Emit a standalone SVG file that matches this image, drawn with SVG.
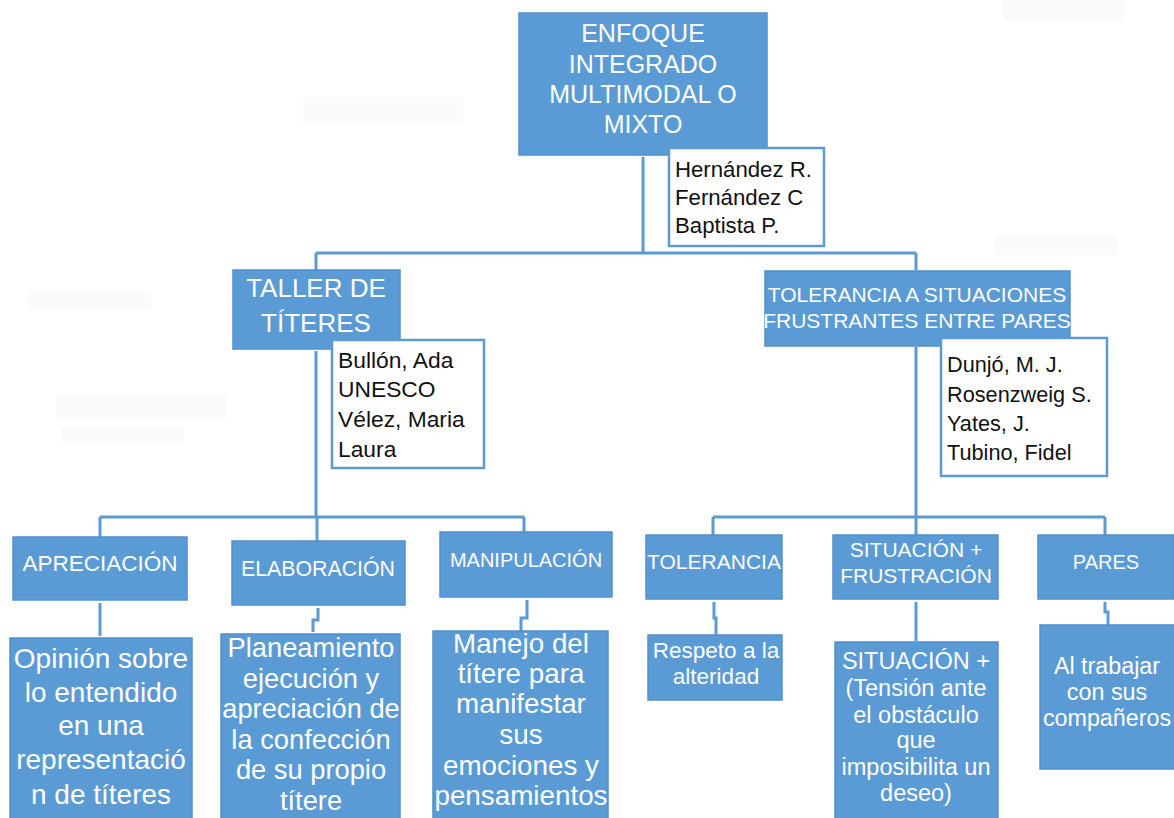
<svg xmlns="http://www.w3.org/2000/svg" width="1174" height="818" viewBox="0 0 1174 818">
<style>
.b{fill:#5b9bd5;stroke:#5290cc;stroke-width:1.5}
.r{fill:#ffffff;stroke:#5b9bd5;stroke-width:2.5}
.w{fill:#ffffff;font-family:"Liberation Sans",Arial,sans-serif;text-anchor:middle}
.k{fill:#111111;font-family:"Liberation Sans",Arial,sans-serif}
.c{fill:none;stroke:#5b9bd5;stroke-width:3}
.g{fill:#fafafa}
</style>
<rect width="1174" height="818" fill="#ffffff"/>
<g id="artifacts">
<rect class="g" x="303" y="97" width="160" height="25"/>
<rect class="g" x="1003" y="0" width="121" height="20"/>
<rect class="g" x="995" y="235" width="122" height="20"/>
<rect class="g" x="28" y="292" width="123" height="18"/>
<rect class="g" x="56" y="394" width="170" height="24"/>
<rect class="g" x="62" y="427" width="122" height="15"/>
</g>
<g id="connectors">
<path class="c" d="M643 157V253M316 253H916M316 253V270M916 253V270"/>
<path class="c" d="M316 351V517M100 517H524M100 517V537M317 517V541M524 517V532"/>
<path class="c" d="M916 347V517M713 517H1105M713 517V535M916 517V535M1105 517V535"/>
<path class="c" d="M100 603V636"/>
<path class="c" d="M318 608V620H313V632"/>
<path class="c" d="M527 600V618H521V631"/>
<path class="c" d="M714 602V618H716V635"/>
<path class="c" d="M916 602V641"/>
<path class="c" d="M1105 602V612H1108V625"/>
</g>
<g id="n-root">
<rect class="b" x="519" y="13" width="248" height="142"/>
<text class="w" font-size="25" x="643"><tspan x="643" y="42">ENFOQUE</tspan><tspan x="643" y="73">INTEGRADO</tspan><tspan x="643" y="103">MULTIMODAL O</tspan><tspan x="643" y="133">MIXTO</tspan></text>
</g>
<g id="n-root-ref">
<rect class="r" x="669" y="148" width="155" height="98"/>
<text class="k" font-size="22.2"><tspan x="675" y="177">Hernández R.</tspan><tspan x="675" y="205">Fernández C</tspan><tspan x="675" y="233">Baptista P.</tspan></text>
</g>
<g id="n-taller">
<rect class="b" x="233" y="270" width="167" height="79"/>
<text class="w" font-size="26"><tspan x="316" y="297">TALLER DE</tspan><tspan x="316" y="332">TÍTERES</tspan></text>
</g>
<g id="n-taller-ref">
<rect class="r" x="332" y="340" width="152" height="128"/>
<text class="k" font-size="22.8"><tspan x="338" y="368">Bullón, Ada</tspan><tspan x="338" y="397">UNESCO</tspan><tspan x="338" y="427">Vélez, Maria</tspan><tspan x="338" y="457">Laura</tspan></text>
</g>
<g id="n-tolerancia-sit">
<rect class="b" x="765" y="271" width="305" height="75"/>
<text class="w" font-size="21"><tspan x="917" y="302">TOLERANCIA A SITUACIONES</tspan><tspan x="917" y="328">FRUSTRANTES ENTRE PARES</tspan></text>
</g>
<g id="n-tolerancia-ref">
<rect class="r" x="941" y="338" width="166" height="138"/>
<text class="k" font-size="21.7"><tspan x="947" y="372">Dunjó, M. J.</tspan><tspan x="947" y="402">Rosenzweig S.</tspan><tspan x="947" y="431">Yates, J.</tspan><tspan x="947" y="460">Tubino, Fidel</tspan></text>
</g>
<g id="n-apreciacion">
<rect class="b" x="13" y="537" width="174" height="63"/>
<text class="w" font-size="22.5" x="100" y="571">APRECIACIÓN</text>
</g>
<g id="n-elaboracion">
<rect class="b" x="232" y="541" width="173" height="64"/>
<text class="w" font-size="21.3" x="318" y="576">ELABORACIÓN</text>
</g>
<g id="n-manipulacion">
<rect class="b" x="440" y="532" width="172" height="65"/>
<text class="w" font-size="20" x="526" y="567">MANIPULACIÓN</text>
</g>
<g id="n-opinion">
<rect class="b" x="10" y="638" width="182" height="182"/>
<text class="w" font-size="28"><tspan x="101" y="668">Opinión sobre</tspan><tspan x="101" y="702">lo entendido</tspan><tspan x="101" y="735">en una</tspan><tspan x="101" y="769">representació</tspan><tspan x="101" y="804">n de títeres</tspan></text>
</g>
<g id="n-planeamiento">
<rect class="b" x="221" y="634" width="179" height="186"/>
<text class="w" font-size="27.3"><tspan x="311" y="657">Planeamiento</tspan><tspan x="311" y="688">ejecución y</tspan><tspan x="311" y="718">apreciación de</tspan><tspan x="311" y="749">la confección</tspan><tspan x="311" y="779">de su propio</tspan><tspan x="311" y="810">títere</tspan></text>
</g>
<g id="n-manejo">
<rect class="b" x="433" y="631" width="175" height="189"/>
<text class="w" font-size="27.8"><tspan x="521" y="653">Manejo del</tspan><tspan x="521" y="683">títere para</tspan><tspan x="521" y="713">manifestar</tspan><tspan x="521" y="744">sus</tspan><tspan x="521" y="775">emociones y</tspan><tspan x="521" y="805">pensamientos</tspan></text>
</g>
<g id="n-tolerancia">
<rect class="b" x="646" y="535" width="136" height="64"/>
<text class="w" font-size="21" x="714" y="569">TOLERANCIA</text>
</g>
<g id="n-situacion">
<rect class="b" x="833" y="535" width="165" height="64"/>
<text class="w" font-size="21"><tspan x="916" y="557">SITUACIÓN +</tspan><tspan x="916" y="583">FRUSTRACIÓN</tspan></text>
</g>
<g id="n-pares">
<rect class="b" x="1038" y="535" width="136" height="64"/>
<text class="w" font-size="20" x="1106" y="569">PARES</text>
</g>
<g id="n-respeto">
<rect class="b" x="648" y="635" width="134" height="65"/>
<text class="w" font-size="22.5"><tspan x="716" y="658">Respeto a la</tspan><tspan x="716" y="684">alteridad</tspan></text>
</g>
<g id="n-tension">
<rect class="b" x="835" y="642" width="163" height="178"/>
<text class="w" font-size="23.5"><tspan x="916" y="669">SITUACIÓN +</tspan><tspan x="916" y="696">(Tensión ante</tspan><tspan x="916" y="723">el obstáculo</tspan><tspan x="916" y="748">que</tspan><tspan x="916" y="775">imposibilita un</tspan><tspan x="916" y="801">deseo)</tspan></text>
</g>
<g id="n-trabajar">
<rect class="b" x="1040" y="625" width="136" height="144"/>
<text class="w" font-size="23.3"><tspan x="1107" y="674">Al trabajar</tspan><tspan x="1107" y="700">con sus</tspan><tspan x="1107" y="726">compañeros</tspan></text>
</g>
</svg>
